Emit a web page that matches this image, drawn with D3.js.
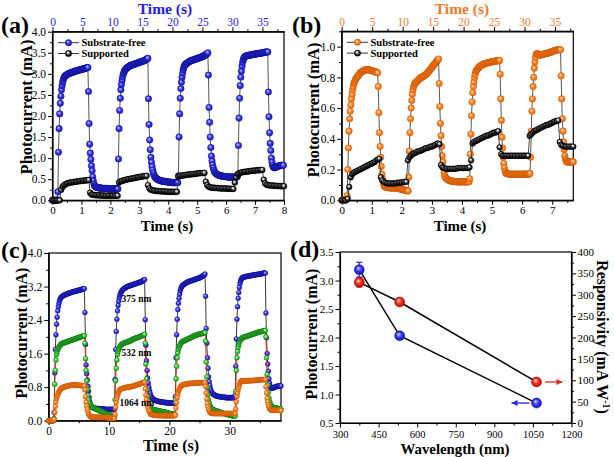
<!DOCTYPE html>
<html><head><meta charset="utf-8">
<script src="https://cdn.jsdelivr.net/npm/d3@7"></script>
<style>body{margin:0;background:#fff}svg{display:block;background:#fff}</style>
</head><body><svg id="c" width="614" height="457"></svg>
<script>
// ---------------- DATA ----------------
// shared time series, sampled every 0.1 s (seconds on the 0-38 s axes)
const DT_SHARED = 0.1;
const blue375 = [
0,0,0,0,0,0,0,0,0.01,0.2,
1.14,1.7,2.05,2.3,2.47,2.62,2.72,2.8,2.86,2.9,
2.93,2.95,2.96,2.97,2.98,2.99,3.0,3.0,3.01,3.02,
3.02,3.03,3.03,3.04,3.04,3.05,3.05,3.06,3.06,3.07,
3.07,3.08,3.08,3.08,3.09,3.09,3.1,3.1,3.1,3.11,
3.11,3.12,3.12,3.12,3.13,3.13,3.14,3.14,3.15,3.15,
2.58,1.82,1.33,1.12,0.97,0.82,0.7,0.56,0.46,0.39,
0.35,0.33,0.32,0.31,0.31,0.3,0.3,0.3,0.29,0.29,
0.29,0.29,0.29,0.28,0.28,0.28,0.28,0.28,0.28,0.28,
0.28,0.28,0.28,0.27,0.27,0.27,0.27,0.27,0.27,0.27,
0.27,0.27,0.27,0.27,0.27,0.27,0.27,0.27,0.27,0.27,
0.98,1.7,2.13,2.42,2.62,2.75,2.85,2.93,2.99,3.03,
3.07,3.09,3.11,3.13,3.14,3.15,3.16,3.17,3.18,3.19,
3.2,3.2,3.21,3.21,3.22,3.22,3.23,3.23,3.24,3.24,
3.25,3.25,3.26,3.26,3.27,3.27,3.28,3.28,3.29,3.29,
3.3,3.3,3.31,3.31,3.32,3.33,3.34,3.35,3.36,3.37,
2.41,1.8,1.43,1.2,1.02,0.9,0.8,0.72,0.66,0.61,
0.57,0.55,0.53,0.52,0.51,0.5,0.49,0.48,0.48,0.47,
0.47,0.46,0.46,0.46,0.45,0.45,0.45,0.45,0.44,0.44,
0.44,0.44,0.44,0.43,0.43,0.43,0.43,0.43,0.43,0.42,
0.42,0.42,0.42,0.42,0.42,0.42,0.42,0.42,0.42,0.42,
0.58,1.5,2.05,2.42,2.65,2.8,2.92,3.02,3.1,3.15,
3.19,3.21,3.23,3.24,3.25,3.26,3.27,3.28,3.29,3.3,
3.31,3.31,3.32,3.32,3.33,3.33,3.34,3.34,3.35,3.35,
3.36,3.36,3.37,3.37,3.38,3.38,3.39,3.39,3.4,3.4,
3.41,3.42,3.42,3.43,3.44,3.45,3.46,3.47,3.48,3.5,
2.97,2.2,1.85,1.5,1.25,1.05,0.93,0.84,0.77,0.72,
0.68,0.66,0.64,0.63,0.62,0.61,0.6,0.6,0.59,0.59,
0.58,0.58,0.58,0.57,0.57,0.57,0.57,0.56,0.56,0.56,
0.56,0.56,0.56,0.55,0.55,0.55,0.55,0.55,0.55,0.55,
0.55,0.55,0.55,0.55,0.55,0.55,0.55,0.55,0.56,0.6,
1.3,1.95,2.42,2.72,2.92,3.06,3.18,3.27,3.33,3.37,
3.4,3.41,3.42,3.42,3.43,3.43,3.44,3.44,3.44,3.44,
3.45,3.45,3.45,3.46,3.46,3.46,3.46,3.47,3.47,3.47,
3.47,3.48,3.48,3.48,3.48,3.49,3.49,3.49,3.49,3.5,
3.5,3.5,3.5,3.51,3.51,3.51,3.52,3.52,3.52,3.52,
2.57,1.98,1.6,1.35,1.18,1.0,0.9,0.83,0.79,0.78,
0.77,0.78,0.78,0.79,0.8,0.8,0.81,0.81,0.82,0.82,
0.82,0.83,0.83,0.83,0.83,0.83];
const green532 = [
0,0,0,0,0,0,0,0,0,0.05,
0.87,1.2,1.45,1.58,1.65,1.7,1.73,1.76,1.78,1.8,
1.82,1.83,1.84,1.85,1.85,1.86,1.86,1.87,1.87,1.88,
1.88,1.89,1.89,1.9,1.9,1.91,1.91,1.92,1.92,1.93,
1.93,1.94,1.94,1.95,1.95,1.96,1.96,1.97,1.97,1.98,
1.98,1.99,1.99,2.0,2.0,2.01,2.01,2.02,2.02,2.03,
1.85,1.48,1.2,0.95,0.75,0.6,0.5,0.44,0.4,0.37,
0.35,0.34,0.33,0.32,0.31,0.31,0.3,0.29,0.28,0.28,
0.27,0.26,0.26,0.25,0.24,0.23,0.23,0.22,0.21,0.21,
0.2,0.19,0.19,0.18,0.17,0.17,0.16,0.16,0.15,0.15,
0.14,0.14,0.13,0.13,0.12,0.12,0.12,0.11,0.11,0.1,
0.5,0.95,1.25,1.45,1.58,1.65,1.7,1.74,1.77,1.79,
1.81,1.82,1.83,1.84,1.85,1.85,1.86,1.86,1.87,1.87,
1.88,1.88,1.89,1.89,1.9,1.9,1.91,1.92,1.93,1.94,
1.95,1.95,1.96,1.96,1.97,1.97,1.98,1.98,1.99,1.99,
2.0,2.0,2.01,2.01,2.02,2.03,2.04,2.04,2.05,2.06,
1.85,1.35,1.0,0.75,0.58,0.47,0.4,0.35,0.32,0.3,
0.28,0.28,0.27,0.27,0.26,0.26,0.26,0.25,0.25,0.25,
0.24,0.24,0.24,0.23,0.23,0.23,0.22,0.22,0.22,0.21,
0.21,0.21,0.2,0.2,0.2,0.19,0.19,0.19,0.18,0.18,
0.17,0.17,0.17,0.17,0.16,0.16,0.16,0.16,0.15,0.15,
0.5,1.0,1.3,1.5,1.62,1.7,1.75,1.79,1.82,1.85,
1.87,1.88,1.89,1.9,1.9,1.91,1.92,1.92,1.93,1.94,
1.95,1.95,1.96,1.96,1.97,1.98,1.98,1.99,2.0,2.01,
2.02,2.02,2.03,2.03,2.04,2.04,2.05,2.05,2.06,2.06,
2.07,2.07,2.07,2.08,2.08,2.08,2.09,2.09,2.1,2.1,
1.9,1.4,1.05,0.8,0.62,0.5,0.42,0.37,0.33,0.3,
0.28,0.27,0.27,0.26,0.25,0.25,0.24,0.24,0.23,0.23,
0.22,0.22,0.21,0.21,0.2,0.2,0.19,0.19,0.18,0.18,
0.17,0.17,0.17,0.16,0.16,0.15,0.15,0.15,0.14,0.14,
0.13,0.13,0.13,0.12,0.12,0.12,0.12,0.11,0.11,0.11,
0.7,1.2,1.5,1.65,1.75,1.82,1.87,1.9,1.93,1.95,
1.97,1.98,1.98,1.99,1.99,2.0,2.0,2.01,2.01,2.02,
2.02,2.03,2.03,2.04,2.04,2.05,2.05,2.06,2.06,2.07,
2.07,2.08,2.08,2.09,2.09,2.1,2.1,2.11,2.11,2.12,
2.12,2.12,2.13,2.13,2.13,2.14,2.14,2.14,2.15,2.15,
2.0,1.5,1.1,0.85,0.68,0.55,0.47,0.42,0.38,0.35,
0.33,0.32,0.32,0.31,0.31,0.3,0.3,0.3,0.3,0.29,
0.29,0.29,0.29,0.28,0.28,0.28];
const orange1064 = [
0,0,0,0,0,0,0,0.01,0.01,0.03,
0.2,0.34,0.45,0.53,0.58,0.62,0.66,0.69,0.72,0.74,
0.76,0.77,0.78,0.79,0.795,0.8,0.805,0.81,0.815,0.82,
0.83,0.83,0.835,0.835,0.84,0.84,0.845,0.845,0.845,0.85,
0.85,0.85,0.85,0.85,0.85,0.85,0.848,0.846,0.845,0.844,
0.843,0.842,0.841,0.84,0.838,0.836,0.835,0.833,0.832,0.83,
0.74,0.57,0.44,0.35,0.28,0.22,0.17,0.14,0.12,0.1,
0.09,0.088,0.086,0.085,0.085,0.084,0.083,0.082,0.082,0.081,
0.08,0.08,0.08,0.08,0.08,0.08,0.08,0.08,0.08,0.08,
0.08,0.079,0.078,0.077,0.076,0.075,0.074,0.073,0.072,0.071,
0.07,0.069,0.068,0.067,0.066,0.065,0.064,0.063,0.062,0.06,
0.15,0.32,0.44,0.53,0.6,0.65,0.69,0.72,0.74,0.75,
0.76,0.765,0.77,0.77,0.775,0.78,0.785,0.79,0.79,0.795,
0.8,0.8,0.802,0.804,0.806,0.81,0.812,0.815,0.818,0.82,
0.825,0.83,0.835,0.84,0.845,0.85,0.855,0.86,0.865,0.87,
0.875,0.88,0.885,0.89,0.895,0.9,0.905,0.91,0.915,0.92,
0.76,0.61,0.5,0.42,0.35,0.29,0.25,0.21,0.18,0.16,
0.15,0.145,0.14,0.138,0.135,0.132,0.13,0.128,0.127,0.126,
0.125,0.125,0.124,0.124,0.123,0.123,0.122,0.122,0.121,0.121,
0.12,0.12,0.12,0.12,0.12,0.12,0.12,0.12,0.12,0.12,
0.12,0.12,0.12,0.12,0.12,0.12,0.12,0.12,0.12,0.12,
0.14,0.3,0.43,0.55,0.64,0.7,0.74,0.77,0.8,0.82,
0.84,0.845,0.85,0.855,0.86,0.865,0.87,0.872,0.875,0.877,
0.88,0.882,0.884,0.886,0.888,0.89,0.891,0.892,0.893,0.894,
0.895,0.896,0.897,0.898,0.899,0.9,0.901,0.902,0.903,0.904,
0.905,0.905,0.906,0.906,0.907,0.907,0.908,0.908,0.909,0.91,
0.82,0.66,0.52,0.41,0.34,0.28,0.24,0.21,0.19,0.18,
0.175,0.174,0.173,0.172,0.171,0.17,0.17,0.17,0.17,0.17,
0.17,0.17,0.17,0.17,0.17,0.17,0.17,0.17,0.17,0.17,
0.17,0.17,0.17,0.17,0.17,0.17,0.17,0.17,0.17,0.17,
0.17,0.17,0.17,0.17,0.17,0.17,0.17,0.17,0.172,0.175,
0.28,0.45,0.58,0.66,0.74,0.8,0.86,0.9,0.93,0.95,
0.955,0.955,0.952,0.95,0.948,0.945,0.945,0.946,0.947,0.948,
0.95,0.951,0.952,0.953,0.954,0.955,0.956,0.957,0.958,0.959,
0.96,0.961,0.962,0.964,0.966,0.968,0.97,0.971,0.972,0.974,
0.975,0.976,0.977,0.978,0.979,0.98,0.98,0.98,0.98,0.98,
0.81,0.66,0.53,0.45,0.38,0.33,0.29,0.27,0.26,0.25,
0.25,0.25,0.25,0.25,0.25,0.25,0.25,0.25,0.25,0.25,
0.25,0.25,0.245,0.245,0.24,0.24];
// supported samples, every 0.05 s (0-8 s axes)
const DT_SUP = 0.05;
const supportedA = [
0,0,0,0,0,0,
0.25,0.32,0.36,0.38,0.4,
0.41,0.42,0.425,0.43,0.435,0.44,0.445,0.45,0.455,0.46,0.465,0.47,0.47,0.475,
0.48,
0.18,0.14,
0.13,0.125,0.12,0.12,0.12,0.115,0.115,0.115,0.11,0.11,0.11,0.11,0.11,0.11,0.11,0.11,0.11,0.11,
0.42,0.45,
0.46,0.47,0.48,0.49,0.5,0.505,0.51,0.52,0.525,0.53,0.54,0.545,0.55,0.56,0.565,0.57,0.575,
0.58,
0.36,0.28,
0.25,0.24,0.23,0.225,0.22,0.22,0.215,0.215,0.21,0.21,0.21,0.205,0.205,0.2,0.2,0.2,0.2,0.2,0.2,
0.56,
0.58,0.585,0.59,0.595,0.6,0.605,0.61,0.615,0.62,0.62,0.625,0.63,0.635,0.64,0.645,0.645,0.65,
0.65,
0.44,0.36,
0.32,0.31,0.3,0.3,0.295,0.29,0.29,0.285,0.285,0.28,0.28,0.28,0.28,0.275,0.275,0.275,0.27,0.27,
0.42,
0.55,0.62,
0.64,0.655,0.665,0.67,0.675,0.68,0.685,0.69,0.695,0.7,0.7,0.705,0.71,0.71,0.715,0.72,0.72,
0.49,0.4,
0.37,0.36,0.355,0.35,0.35,0.345,0.345,0.34,0.34,0.34,0.335,0.335,0.335];
const supportedB = [
0,0,0,0,0.01,
0.087,
0.15,0.17,0.18,0.185,0.19,
0.195,0.2,0.205,0.21,0.215,0.22,0.225,0.23,0.235,
0.24,0.245,0.25,0.26,0.265,0.27,
0.15,0.13,0.12,
0.115,0.11,0.11,0.11,0.11,0.11,0.11,0.11,0.115,0.115,0.115,0.115,0.12,0.12,0.12,
0.26,0.28,
0.29,0.3,0.305,0.31,0.315,0.32,0.32,0.325,0.33,0.335,0.34,0.34,0.345,0.35,0.35,0.355,0.36,0.365,0.37,
0.365,
0.23,0.215,
0.21,0.205,0.205,0.205,0.205,0.205,0.205,0.205,0.205,0.21,0.21,0.21,0.21,0.21,0.21,0.21,0.21,0.215,
0.26,
0.37,
0.38,0.385,0.39,0.395,0.4,0.405,0.41,0.415,0.42,0.42,0.425,0.43,0.435,0.44,0.44,0.445,0.45,
0.345,0.3,
0.29,0.29,0.29,0.29,0.29,0.29,0.29,0.29,0.29,0.29,0.29,0.29,0.29,0.29,0.29,0.29,0.29,0.29,
0.42,
0.43,0.44,0.45,0.455,0.46,0.465,0.47,0.475,0.48,0.485,0.49,0.49,0.495,0.5,0.505,0.51,0.515,0.515,0.52,
0.38,0.36,
0.355,0.35,0.35,0.35,0.35,0.35,0.35,0.35];
// panel (d)
const wavelengths = [375, 532, 1064];
const photocurrentD = [3.19, 2.03, 0.85];
const photocurrentErr = [0.13, 0, 0];
const responsivityD = [329, 283, 96];
const responsivityErr = [11, 0, 0];
// ticks
const aYTicks = [0,0.5,1,1.5,2,2.5,3,3.5,4];
const aXTicks = [0,1,2,3,4,5,6,7,8];
const topTicks = [0,5,10,15,20,25,30,35];
const bYTicks = [0,0.2,0.4,0.6,0.8,1.0];
const bXTicks = [0,1,2,3,4,5,6,7];
const cYTicks = [0,0.8,1.6,2.4,3.2,4.0];
const cXTicks = [0,10,20,30];
const dXTicks = [300,450,600,750,900,1050,1200];
const dYLTicks = [0.5,1,1.5,2,2.5,3,3.5];
const dYRTicks = [0,50,100,150,200,250,300,350,400];
const seriesNames = ["Substrate-free","Supported"];
const waveLabels = ["375 nm","532 nm","1064 nm"];

// ---------------- DRAW ----------------
const FONT = "'Liberation Serif','Times New Roman',serif";
const BLUE = "#2222e6", ORANGE = "#f7791f", GREEN = "#2ec82e", RED = "#e8281a";
const svg = d3.select("#c");
const defs = svg.append("defs");
function ball(id, stops){
  const g = defs.append("radialGradient").attr("id",id)
    .attr("cx","50%").attr("cy","50%").attr("r","55%").attr("fx","38%").attr("fy","32%");
  stops.forEach(([o,c])=>g.append("stop").attr("offset",o).attr("stop-color",c));
}
ball("gBlue",[["0%","#d8d8ff"],["50%","#3636f0"],["100%","#1414a8"]]);
ball("gOrange",[["0%","#fff0dd"],["50%","#ff8526"],["100%","#e06408"]]);
ball("gGreen",[["0%","#d8ffd8"],["50%","#3ad23a"],["100%","#148c14"]]);
ball("gBlack",[["0%","#ffffff"],["30%","#b0b0b0"],["60%","#202020"],["100%","#000000"]]);
ball("gRed",[["0%","#ffd0c8"],["50%","#f03020"],["100%","#a81008"]]);

function range(a,b,s){const r=[];for(let v=a;v<=b+1e-9;v+=s)r.push(+v.toFixed(4));return r;}

function drawAxis(orient, scale, pos, major, minor, fmt, opts={}){
  const gen = {bottom:d3.axisBottom, top:d3.axisTop, left:d3.axisLeft, right:d3.axisRight}[orient];
  const tr = (orient==="bottom"||orient==="top") ? `translate(0,${pos})` : `translate(${pos},0)`;
  if(minor){
    const m = svg.append("g").attr("transform",tr)
      .call(gen(scale).tickValues(minor).tickSize(2.5).tickFormat("").tickSizeOuter(0));
    m.select(".domain").remove();
    m.selectAll("line").attr("stroke","#000").attr("stroke-width",1);
  }
  const g = svg.append("g").attr("transform",tr)
    .call(gen(scale).tickValues(major).tickSize(4.5).tickPadding(opts.pad ?? 2).tickFormat(fmt).tickSizeOuter(0));
  g.select(".domain").attr("stroke","#000").attr("stroke-width",1.2);
  g.selectAll(".tick line").attr("stroke","#000").attr("stroke-width",1);
  g.selectAll("text").attr("font-family",FONT).attr("font-size",opts.fs||11.5).attr("fill",opts.color||"#000");
}
function frame(x,y){
  svg.append("rect").attr("x",x.range()[0]).attr("y",y.range()[1])
    .attr("width",x.range()[1]-x.range()[0]).attr("height",y.range()[0]-y.range()[1])
    .attr("fill","none").attr("stroke","#000").attr("stroke-width",1.2);
}
function series(x, y, data, dt, grad, r, lineColor, stroke){
  const xmax = x.domain()[1];
  const pts = data.map((v,i)=>[i*dt, v]).filter(d=>d[0] <= xmax+1e-9);
  svg.append("path").datum(pts)
    .attr("d", d3.line().x(d=>x(d[0])).y(d=>y(d[1])))
    .attr("fill","none").attr("stroke",lineColor).attr("stroke-width",0.9);
  svg.append("g").selectAll("circle").data(pts).join("circle")
    .attr("cx",d=>x(d[0])).attr("cy",d=>y(d[1])).attr("r",r)
    .attr("fill",`url(#${grad})`).attr("stroke",stroke).attr("stroke-width",0.35);
}
function text(x,y,s,o={}){
  const t = svg.append("text").attr("x",x).attr("y",y).text(s)
    .attr("font-family",FONT).attr("font-size",o.fs||15).attr("font-weight",o.bold===false?"normal":"bold")
    .attr("fill",o.color||"#000").attr("text-anchor",o.anchor||"middle");
  if(o.rot) t.attr("transform",`rotate(${o.rot},${x},${y})`);
  return t;
}
function legend(x0, y0, names, grads, strokes){
  names.forEach((n,i)=>{
    const y = y0 + i*10.8;
    svg.append("line").attr("x1",x0).attr("x2",x0+21).attr("y1",y).attr("y2",y).attr("stroke","#333").attr("stroke-width",1);
    svg.append("circle").attr("cx",x0+10.5).attr("cy",y).attr("r",3.2).attr("fill",`url(#${grads[i]})`).attr("stroke",strokes[i]).attr("stroke-width",0.4);
    text(x0+23.5, y+3.6, n, {fs:10.5, anchor:"start"});
  });
}
const f1 = d3.format(".1f");

// ---- panel (a) ----
{
  const x = d3.scaleLinear().domain([0,8]).range([52.5,284]);
  const xt = d3.scaleLinear().domain([0,38.6]).range([52.5,284]);
  const y = d3.scaleLinear().domain([0,4]).range([200.3,31.7]);
  frame(x,y);
  drawAxis("left", y, 52.5, aYTicks, range(0.25,3.75,0.5), f1);
  drawAxis("bottom", x, 200.3, aXTicks, range(0.5,7.5,1), d3.format("d"), {pad:1, fs:11});
  drawAxis("top", xt, 31.7, topTicks, range(2.5,37.5,5), d3.format("d"), {color:BLUE, pad:1});
  series(xt, y, blue375, DT_SHARED, "gBlue", 3.3, "#444", "#10108a");
  series(x, y, supportedA, DT_SUP, "gBlack", 3.0, "#333", "#000");
  legend(58, 42.7, seriesNames, ["gBlue","gBlack"], ["#10108a","#000"]);
  text(167, 231, "Time (s)", {fs:15});
  text(165, 13.5, "Time (s)", {fs:15.5, color:BLUE});
  text(32, 107, "Photocurrent (mA)", {fs:16.5, rot:-90});
  text(1, 33, "(a)", {fs:24, anchor:"start"});
}
// ---- panel (b) ----
{
  const x = d3.scaleLinear().domain([0,7.7]).range([341.7,573.3]);
  const xt = d3.scaleLinear().domain([0,38]).range([341.7,573.3]);
  const y = d3.scaleLinear().domain([0,1.1]).range([200.3,31.3]);
  frame(x,y);
  drawAxis("left", y, 341.7, bYTicks, range(0.1,1.1,0.2), f1);
  drawAxis("bottom", x, 200.3, bXTicks, range(0.5,7.5,1), d3.format("d"), {pad:1, fs:11});
  drawAxis("top", xt, 31.3, topTicks, range(2.5,37.5,5), d3.format("d"), {color:ORANGE, pad:1});
  series(xt, y, orange1064, DT_SHARED, "gOrange", 3.3, "#444", "#c45400");
  series(x, y, supportedB, DT_SUP, "gBlack", 2.9, "#333", "#000");
  legend(347, 42.3, seriesNames, ["gOrange","gBlack"], ["#c45400","#000"]);
  text(460, 231, "Time (s)", {fs:15});
  text(462, 13.5, "Time (s)", {fs:15.5, color:ORANGE});
  text(318.5, 110, "Photocurrent (mA)", {fs:16.5, rot:-90});
  text(292, 33, "(b)", {fs:24, anchor:"start"});
}
// ---- panel (c) ----
{
  const x = d3.scaleLinear().domain([0,38.5]).range([48.7,281]);
  const y = d3.scaleLinear().domain([0,4]).range([420.7,253]);
  frame(x,y);
  drawAxis("left", y, 48.7, cYTicks, range(0.4,3.6,0.8), f1);
  drawAxis("bottom", x, 420.7, cXTicks, [5,15,25,35], d3.format("d"));
  series(x, y, blue375, DT_SHARED, "gBlue", 2.5, "#222", "#10108a");
  series(x, y, green532, DT_SHARED, "gGreen", 2.5, RED, "#137013");
  series(x, y, orange1064, DT_SHARED, "gOrange", 2.5, RED, "#c45400");
  text(121.5, 302, waveLabels[0], {fs:9.5, anchor:"start"});
  text(121.5, 355.5, waveLabels[1], {fs:9.5, anchor:"start"});
  text(119.5, 405.5, waveLabels[2], {fs:9.5, anchor:"start"});
  text(171, 451, "Time (s)", {fs:16});
  text(26.5, 333, "Photocurrent (mA)", {fs:16, rot:-90});
  text(1, 258, "(c)", {fs:24, anchor:"start"});
}
// ---- panel (d) ----
{
  const x = d3.scaleLinear().domain([300,1200]).range([340,571.5]);
  const yl = d3.scaleLinear().domain([0.5,3.5]).range([423,252]);
  const yr = d3.scaleLinear().domain([0,400]).range([423,252]);
  frame(x,yl);
  drawAxis("left", yl, 340, dYLTicks, range(0.75,3.25,0.5), f1, {fs:11});
  drawAxis("right", yr, 571.5, dYRTicks, range(25,375,50), d3.format("d"), {fs:11, pad:1.5});
  drawAxis("bottom", x, 423, dXTicks, range(375,1125,150), d3.format("d"), {pad:3.5, fs:10.5});
  const line = (sx, sy, vals) => svg.append("path").datum(vals.map((v,i)=>[wavelengths[i],v]))
    .attr("d", d3.line().x(d=>sx(d[0])).y(d=>sy(d[1]))).attr("fill","none").attr("stroke","#000").attr("stroke-width",1.5);
  line(x, yl, photocurrentD);
  line(x, yr, responsivityD);
  const err = (sy, vals, errs, col) => wavelengths.forEach((w,i)=>{
    if(!errs[i]) return;
    const cx = x(w);
    svg.append("line").attr("x1",cx).attr("x2",cx).attr("y1",sy(vals[i]-errs[i])).attr("y2",sy(vals[i]+errs[i])).attr("stroke",col).attr("stroke-width",1.2);
    [vals[i]-errs[i], vals[i]+errs[i]].forEach(v=>svg.append("line").attr("x1",cx-3).attr("x2",cx+3).attr("y1",sy(v)).attr("y2",sy(v)).attr("stroke",col).attr("stroke-width",1.2));
  });
  err(yl, photocurrentD, photocurrentErr, BLUE);
  err(yr, responsivityD, responsivityErr, RED);
  const dots = (sy, vals, grad, st) => svg.append("g").selectAll("circle").data(vals).join("circle")
    .attr("cx",(d,i)=>x(wavelengths[i])).attr("cy",d=>sy(d)).attr("r",5)
    .attr("fill",`url(#${grad})`).attr("stroke",st).attr("stroke-width",0.5);
  dots(yr, responsivityD, "gRed", "#900");
  dots(yl, photocurrentD, "gBlue", "#10108a");
  // axis-indicator arrows
  function arrow(x1, x2, yy, col){
    svg.append("line").attr("x1",x1).attr("x2",x2).attr("y1",yy).attr("y2",yy).attr("stroke",col).attr("stroke-width",1.3);
    const d = Math.sign(x2-x1);
    svg.append("path").attr("d",`M${x2},${yy} L${x2-d*6},${yy-3} L${x2-d*6},${yy+3} Z`).attr("fill",col);
  }
  const bx = x(wavelengths[2]), byy = yl(photocurrentD[2]), ryy = yr(responsivityD[2]);
  arrow(bx-7, bx-25, byy, BLUE);
  arrow(bx+8.5, bx+26, ryy, RED);
  text(455, 454, "Wavelength (nm)", {fs:14.8});
  text(317, 334, "Photocurrent (mA)", {fs:16, rot:-90});
  const rt = svg.append("text").attr("transform","translate(597,337) rotate(90)")
    .attr("font-family",FONT).attr("font-size",16).attr("font-weight","bold").attr("text-anchor","middle");
  rt.append("tspan").text("Responsivity (mA W");
  rt.append("tspan").text("-1").attr("font-size",10).attr("dy",-6);
  rt.append("tspan").text(")").attr("dy",6);
  text(290, 257, "(d)", {fs:24, anchor:"start"});
}
</script></body></html>
